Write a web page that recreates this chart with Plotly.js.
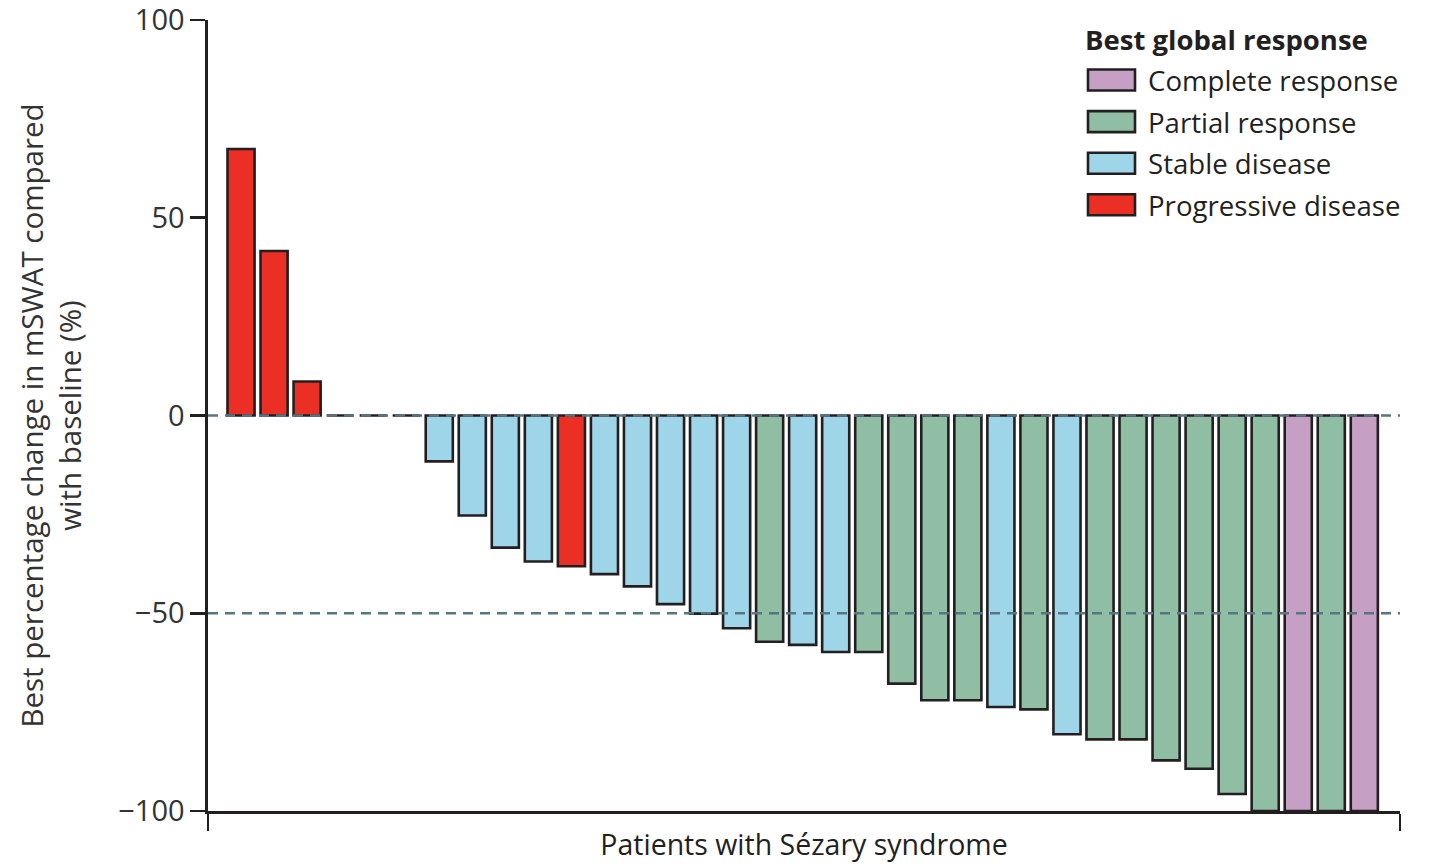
<!DOCTYPE html>
<html>
<head>
<meta charset="utf-8">
<script src="https://cdn.plot.ly/plotly-3.0.1.min.js"></script>
<style>
  html, body { margin: 0; padding: 0; background: #ffffff; }
  #chart { width: 1429px; height: 864px; }
</style>
</head>
<body>
<div id="chart"></div>
<script>
// ---- Data ----
const patients = [1,2,3,4,5,6,7,8,9,10,11,12,13,14,15,16,17,18,19,20,21,22,23,24,25,26,27,28,29,30,31,32,33,34,35];
const changePct = [67.4, 41.6, 8.6, 0, 0, 0, -11.6, -25.3, -33.4, -36.9, -38.1, -40.1, -43.2, -47.7, -50.1, -53.8,
                   -57.2, -58.0, -59.8, -59.8, -67.8, -72.0, -72.0, -73.7, -74.3, -80.6, -81.9, -81.9, -87.2, -89.3,
                   -95.7, -100, -100, -100, -100];
const response = ['PD','PD','PD','PD','PD','PD','SD','SD','SD','SD','PD','SD','SD','SD','SD','SD',
                  'PR','SD','SD','PR','PR','PR','PR','SD','PR','SD','PR','PR','PR','PR',
                  'PR','PR','CR','PR','CR'];
const categoryKeys = ['CR','PR','SD','PD'];
const categoryNames = ['Complete response','Partial response','Stable disease','Progressive disease'];
const categoryColors = ['#c6a0c4','#8fbea5','#9fd5e8','#ec2f24'];
const yTicks = [100, 50, 0, -50, -100];
const refLines = [0, -50];
const legendTitle = 'Best global response';

const FONT = '"Open Sans", "Noto Sans", sans-serif';
const INK = '#231f20';

// ---- Traces: one per response category ----
const traces = categoryKeys.map((key, i) => {
  const xs = [], ys = [];
  patients.forEach((p, j) => { if (response[j] === key) { xs.push(p); ys.push(changePct[j]); } });
  return {
    type: 'bar', name: categoryNames[i], x: xs, y: ys, width: 0.82,
    marker: { color: categoryColors[i], line: { color: INK, width: 2.6 } },
    showlegend: false, hoverinfo: 'x+y+name'
  };
});

// ---- Layout geometry ----
const L = 208, R = 29, T = 20, B = 53;
const W = 1429, H = 864;
const pw = W - L - R, ph = H - T - B;
const px2paperX = px => (px - L) / pw;
const px2paperY = py => (H - B - py) / ph;

const shapes = refLines.map(v => ({
  type: 'line', xref: 'paper', yref: 'y', x0: 0, x1: 1, y0: v, y1: v,
  line: { color: '#587583', width: 2.6, dash: '10px,7px' }, layer: 'above'
}));

const annotations = [{
  xref: 'paper', yref: 'paper', x: px2paperX(1083), y: px2paperY(39),
  xanchor: 'left', yanchor: 'middle', showarrow: false,
  text: '<b>' + legendTitle + '</b>', font: { family: FONT, size: 27.5, color: INK }
}];

categoryNames.forEach((name, i) => {
  const cy = 80 + i * 41.6;
  shapes.push({
    type: 'rect', xref: 'paper', yref: 'paper',
    x0: px2paperX(1088), x1: px2paperX(1135), y0: px2paperY(cy - 10.5), y1: px2paperY(cy + 10.5),
    fillcolor: categoryColors[i], line: { color: INK, width: 2.6 }, layer: 'above'
  });
  annotations.push({
    xref: 'paper', yref: 'paper', x: px2paperX(1146), y: px2paperY(cy),
    xanchor: 'left', yanchor: 'middle', showarrow: false,
    text: name, font: { family: FONT, size: 27.6, color: INK }
  });
});

const layout = {
  width: W, height: H,
  margin: { l: L, r: R, t: T, b: B, pad: 0 },
  paper_bgcolor: '#ffffff', plot_bgcolor: '#ffffff',
  font: { family: FONT, color: INK },
  bargap: 0,
  showlegend: false,
  xaxis: {
    range: [0, 36.08], showgrid: false, zeroline: false,
    tickvals: [0, 36.08], ticktext: ['', ''], ticks: 'outside', ticklen: 17, tickwidth: 2.6, tickcolor: INK,
    showline: true, linecolor: INK, linewidth: 2.6,
    title: { text: 'Patients with Sézary syndrome', font: { family: FONT, size: 28.5, color: INK }, standoff: 3 },
    automargin: false, fixedrange: true
  },
  yaxis: {
    range: [-100, 100], showgrid: false, zeroline: false,
    tickvals: yTicks, ticks: 'outside', ticklen: 15, tickwidth: 2.6, tickcolor: INK,
    tickfont: { family: FONT, size: 29, color: '#333333' },
    ticklabeloverflow: 'allow',
    showline: true, linecolor: INK, linewidth: 2.6,
    title: { text: 'Best percentage change in mSWAT compared<br>with baseline (%)', font: { family: FONT, size: 29.5, color: '#333333' }, standoff: 28 },
    automargin: false, fixedrange: true
  },
  shapes: shapes,
  annotations: annotations
};

Plotly.newPlot('chart', traces, layout, { displayModeBar: false, staticPlot: true });
</script>
</body>
</html>
